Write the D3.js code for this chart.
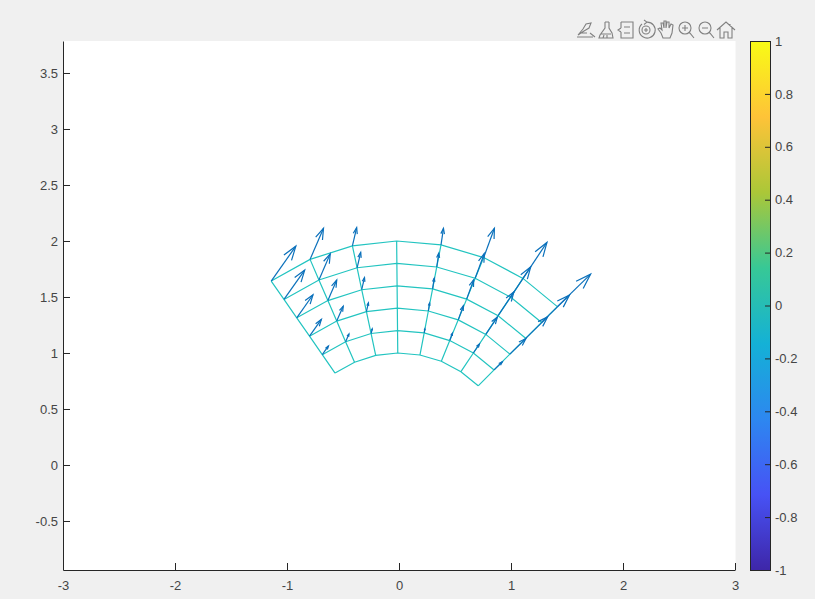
<!DOCTYPE html>
<html>
<head>
<meta charset="utf-8">
<script src="https://cdn.jsdelivr.net/npm/d3@7"></script>
<style>
html,body{margin:0;padding:0;background:#f0f0f0;}
svg{display:block;}
text{font-family:"Liberation Sans",Arial,sans-serif;}
</style>
</head>
<body>
<svg id="chart" width="815" height="599"></svg>
<script>
// Mesh node coordinates (rows: inner to outer radius, columns: right to left)
const meshX = [
  [0.707,0.553,0.378,0.187,-0.011,-0.208,-0.397,-0.571],
  [0.849,0.664,0.453,0.225,-0.013,-0.249,-0.477,-0.685],
  [0.990,0.775,0.529,0.262,-0.015,-0.291,-0.556,-0.799],
  [1.131,0.885,0.604,0.300,-0.017,-0.333,-0.635,-0.913],
  [1.273,0.996,0.680,0.337,-0.019,-0.374,-0.715,-1.027],
  [1.414,1.107,0.756,0.375,-0.021,-0.416,-0.794,-1.141]
];
const meshY = [
  [0.707,0.833,0.926,0.982,1.000,0.978,0.918,0.821],
  [0.849,1.000,1.111,1.179,1.200,1.174,1.101,0.985],
  [0.990,1.166,1.296,1.375,1.400,1.369,1.285,1.150],
  [1.131,1.333,1.481,1.572,1.600,1.565,1.468,1.314],
  [1.273,1.499,1.667,1.768,1.800,1.761,1.652,1.478],
  [1.414,1.666,1.852,1.965,2.000,1.956,1.836,1.642]
];
// Arrow components at each node
const arrowU = [
  [0,0,0,0,0,0,0,0],
  [0.074,0.054,0.024,0.006,0,0.010,0.030,0.055],
  [0.143,0.103,0.046,0.011,0,0.018,0.058,0.106],
  [0.196,0.141,0.063,0.015,0,0.025,0.079,0.145],
  [0.249,0.180,0.081,0.018,0,0.032,0.101,0.185],
  [0.297,0.214,0.096,0.022,0,0.038,0.120,0.220]
];
const arrowV = [
  [0,0,0,0,0,0,0,0],
  [0.073,0.080,0.066,0.037,0,0.041,0.069,0.078],
  [0.139,0.154,0.126,0.071,0,0.078,0.133,0.150],
  [0.191,0.212,0.173,0.097,0,0.108,0.183,0.206],
  [0.244,0.270,0.220,0.123,0,0.137,0.233,0.262],
  [0.290,0.321,0.262,0.147,0,0.163,0.277,0.312]
];
const xTicks = [-3,-2,-1,0,1,2,3];
const yTicks = [-0.5,0,0.5,1,1.5,2,2.5,3,3.5];
const cbTicks = [-1,-0.8,-0.6,-0.4,-0.2,0,0.2,0.4,0.6,0.8,1];
const parula = ["#3e26a8","#4752f5","#2d87f0","#14b1d6","#37c896","#abc738","#fec338","#f9fb15"];

const svg = d3.select("#chart");
const left = 63, right = 735, top_ = 41, bottom = 570;
const cbLeft = 750, cbRight = 770;
const textColor = "#454545", axisColor = "#262626";
const meshColor = "#22c4c0", arrowColor = "#0a70bb", iconColor = "#808080";

const x = d3.scaleLinear().domain([-3,3]).range([left,right]);
const y = d3.scaleLinear().domain([-0.9375,3.7857]).range([bottom,top_]);
const cb = d3.scaleLinear().domain([-1,1]).range([bottom,top_]);

svg.append("rect").attr("width",815).attr("height",599).attr("fill","#f0f0f0");
svg.append("rect").attr("x",left).attr("y",top_).attr("width",right-left+0.5).attr("height",bottom-top_)
  .attr("fill","#fff");

// Mesh
const meshLine = d3.line().x(d=>x(d[0])).y(d=>y(d[1]));
const gMesh = svg.append("g").attr("fill","none").attr("stroke",meshColor).attr("stroke-width",1.2);
meshX.forEach((row,i)=>{
  gMesh.append("path").attr("d",meshLine(row.map((v,j)=>[v,meshY[i][j]])));
});
meshX[0].forEach((_,j)=>{
  gMesh.append("path").attr("d",meshLine(meshX.map((row,i)=>[row[j],meshY[i][j]])));
});

// Quiver
const alpha = 0.33, beta = 0.33;
const gArrow = svg.append("g").attr("fill","none").attr("stroke",arrowColor).attr("stroke-width",1.2);
meshX.forEach((row,i)=>{
  row.forEach((x0,j)=>{
    const y0 = meshY[i][j], u = arrowU[i][j], v = arrowV[i][j];
    if(u===0 && v===0) return;
    const tx = x0+u, ty = y0+v;
    gArrow.append("path").attr("d",meshLine([[x0,y0],[tx,ty]]));
    gArrow.append("path").attr("d",meshLine([
      [tx-alpha*(u+beta*v), ty-alpha*(v-beta*u)],
      [tx,ty],
      [tx-alpha*(u-beta*v), ty-alpha*(v+beta*u)]
    ]));
  });
});

function styleAxis(g){
  g.selectAll("path,line").attr("stroke",axisColor).attr("stroke-width",1);
  g.selectAll("text").attr("fill",textColor).style("font-size","13px").style("font-family",'"Liberation Sans",Arial,sans-serif');
}
svg.append("g").attr("transform",`translate(0,${bottom})`)
  .call(d3.axisBottom(x).tickValues(xTicks).tickFormat(d=>String(d)).tickSizeInner(-7).tickSizeOuter(0).tickPadding(11))
  .call(styleAxis);
svg.append("g").attr("transform",`translate(${left},0)`)
  .call(d3.axisLeft(y).tickValues(yTicks).tickFormat(d=>String(d)).tickSizeInner(-7).tickSizeOuter(0).tickPadding(5))
  .call(styleAxis);

// Colorbar
const grad = svg.append("defs").append("linearGradient").attr("id","parula")
  .attr("x1",0).attr("x2",0).attr("y1",1).attr("y2",0);
parula.forEach((c,i)=>grad.append("stop").attr("offset",i/(parula.length-1)).attr("stop-color",c));
svg.append("rect").attr("x",cbLeft+0.5).attr("y",top_+0.5).attr("width",cbRight-cbLeft).attr("height",bottom-top_)
  .attr("fill","url(#parula)").attr("stroke",axisColor).attr("stroke-width",1);
svg.append("g").attr("transform",`translate(${cbRight},0)`)
  .call(d3.axisRight(cb).tickValues(cbTicks).tickFormat(d=>String(d)).tickSizeInner(-5).tickSizeOuter(0).tickPadding(5))
  .call(styleAxis)
  .call(g=>g.select(".domain").remove());

// Toolbar icons
const icons = [
  {cx:586,d:"M-8 5 L-3 -1 L0 -6 L5 -7 L3 -2 L-2 1 Z M-9 7 L7 7 M4 3 L9 7 M-5 3 L1 3"},
  {cx:606,d:"M-1 -8 L3 -8 M-1 -8 L-1 -2 L-6 5 L-7 8 L7 8 L6 3 L3 -2 L3 -8 M-5 4 L5 4 M-3 8 L-2 5 M1 8 L1 5"},
  {cx:626,d:"M-5 -8 L7 -8 L7 8 L-5 8 L-5 2 M-5 -2 L-5 -8 M-2 -3 L4 -3 M-2 3 L4 3 M-5 -2 L-8 0 L-5 2"},
  {cx:646,d:"M-4 -6 A8 8 0 1 0 1 -7.9 M1 -7.9 L-2 -10 M1 -7.9 L-2 -5.5 M-4 0 A4 4 0 1 1 4 0 A4 4 0 1 1 -4 0 M-2 0 L2 0 M0 -2 L0 2"},
  {cx:666,d:"M-5 3 L-8 -1 L-6 -2 L-4 0 L-5 -7 L-3 -7 L-2 -2 L-2 -9 L0 -9 L0 -2 L1 -8 L3 -8 L3 -2 L5 -6 L7 -5 L6 3 L4 8 L-3 8 Z"},
  {cx:686,d:"M-7 -2 A6 6 0 1 1 5 -2 A6 6 0 1 1 -7 -2 M-1 -5 L-1 1 M-4 -2 L2 -2 M3.2 2.2 L8 8"},
  {cx:706,d:"M-7 -2 A6 6 0 1 1 5 -2 A6 6 0 1 1 -7 -2 M-4 -2 L2 -2 M3.2 2.2 L8 8"},
  {cx:726,d:"M-9 0 L0 -8 L9 0 M-6 -2 L-6 8 L-2 8 L-2 2 L2 2 L2 8 L6 8 L6 -2 M4 -6 L4 -4"}
];
const gIcons = svg.append("g").attr("fill","none").attr("stroke",iconColor).attr("stroke-width",1.1);
icons.forEach(ic=>{
  gIcons.append("path").attr("transform",`translate(${ic.cx},30)`).attr("d",ic.d);
});
</script>
</body>
</html>
